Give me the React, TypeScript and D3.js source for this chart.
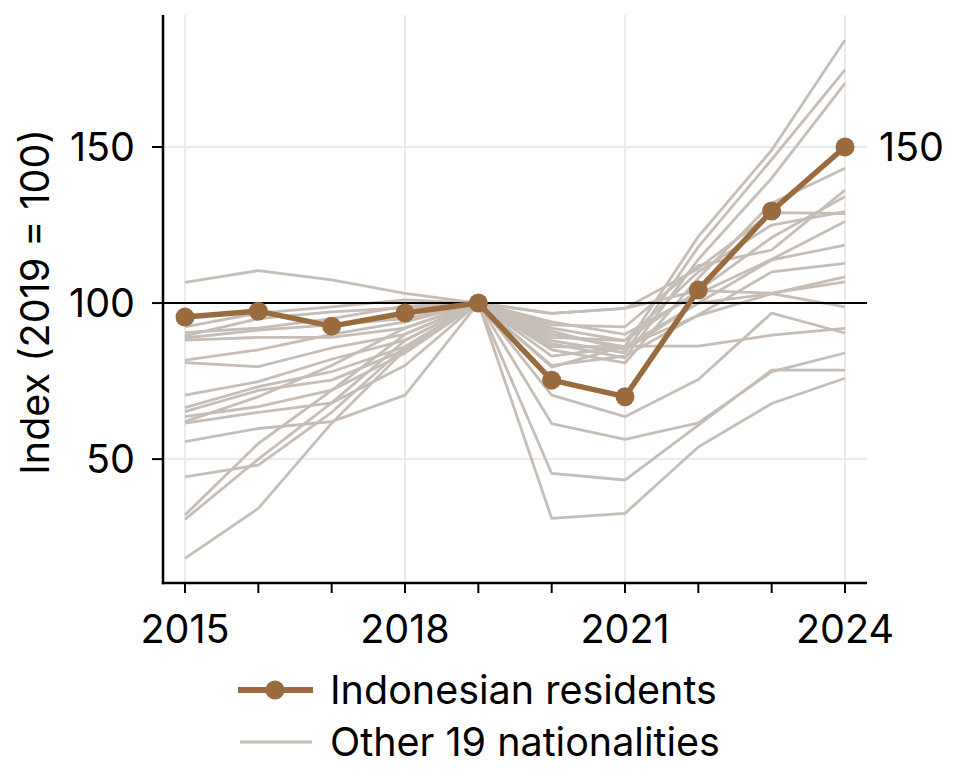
import React from "react";
import * as d3 from "d3";

const years = [2015, 2016, 2017, 2018, 2019, 2020, 2021, 2022, 2023, 2024];
const labelYears = [2015, 2018, 2021, 2024];
const yTicks = [50, 100, 150];

const indonesia = [95.5, 97.4, 92.6, 96.8, 100, 75.3, 70, 104.2, 129.5, 150];

const other1 = [106.6, 110.4, 107.4, 103.1, 100, 96.7, 98.3, 111.1, 129, 128.7];
const other2 = [92.4, 96.8, 98.8, 101, 100, 92, 88, 104, 121, 134.1];
const other3 = [89.5, 95, 97.2, 98.5, 100, 90, 86, 121.3, 149, 184.3];
const other4 = [88.8, 91.3, 93, 95, 100, 88, 84, 118, 146, 174.7];
const other5 = [88.1, 89, 89, 92, 100, 87, 82.4, 114, 140, 170.4];
const other6 = [81.7, 85, 90, 94, 100, 85, 80.8, 108, 132, 143.2];
const other7 = [80.9, 79.6, 85.6, 90, 100, 93, 92.4, 112, 117, 136.2];
const other8 = [70.5, 74.8, 82, 88.1, 100, 94, 90, 103, 114, 126.1];
const other9 = [66.5, 73.2, 78, 86, 100, 83, 86, 100, 113.8, 118.6];
const other10 = [65.2, 72, 75.3, 85, 100, 96.7, 98.3, 104, 103.2, 106.8];
const other11 = [63.6, 66.8, 72.1, 84, 100, 80, 83, 96.2, 110, 112.7];
const other12 = [62, 70, 80, 92, 100, 89, 88, 110, 125, 129.3];
const other13 = [61.5, 65, 68, 80, 100, 86, 86, 96, 103, 108.4];
const other14 = [55.6, 59.8, 62, 70.5, 100, 70.5, 63.6, 75.5, 96.8, 90.4];
const other15 = [44.3, 48.1, 65, 86, 100, 61.4, 56.3, 61.6, 78, 84];
const other16 = [32.1, 55, 72, 90, 100, 79.5, 86.2, 86.2, 89.7, 91.9];
const other17 = [30.7, 50, 68, 88, 100, 45.4, 43.3, 60.9, 78.5, 78.5];
const other18 = [18.2, 34.2, 61.5, 85, 100, 31, 32.6, 53.9, 67.8, 75.9];
const other19 = [90.5, 92, 95, 99, 100, 91, 85, 100, 103, 98.8];

const others = [
  other1, other2, other3, other4, other5, other6, other7, other8, other9, other10,
  other11, other12, other13, other14, other15, other16, other17, other18, other19,
];

const BROWN = "#9a6b3f";
const GRAY = "#c6beb6";
const FONT = "Inter, 'DejaVu Sans', sans-serif";
const FS = 39.5;

export default function App() {
  const W = 962;
  const H = 780;
  const left = 163;
  const right = 867;
  const top = 15;
  const bottom = 583;

  const x = d3.scaleLinear().domain([2014.7, 2024.3]).range([left, right]);
  const y = d3.scaleLinear().domain([10.3, 192.3]).range([bottom, top]);

  const line = d3
    .line<number>()
    .x((_, i) => x(years[i]))
    .y((d) => y(d));

  return (
    <svg
      width={W}
      height={H}
      style={{ position: "absolute", left: 0, top: 0, background: "#fff" }}
      fontFamily={FONT}
    >
      {/* grid */}
      {labelYears.map((yr) => (
        <line key={"gx" + yr} x1={x(yr)} x2={x(yr)} y1={top} y2={bottom} stroke="#ebebeb" strokeWidth={2} />
      ))}
      {yTicks
        .filter((t) => t !== 100)
        .map((t) => (
          <line key={"gy" + t} x1={left} x2={right} y1={y(t)} y2={y(t)} stroke="#ebebeb" strokeWidth={2} />
        ))}

      {/* other lines */}
      {others.map((s, i) => (
        <path key={"o" + i} d={line(s) || ""} fill="none" stroke={GRAY} strokeWidth={2.8} strokeLinejoin="round" />
      ))}

      {/* reference line */}
      <line x1={left} x2={right} y1={y(100)} y2={y(100)} stroke="#000" strokeWidth={2} />

      {/* Indonesia */}
      <path d={line(indonesia) || ""} fill="none" stroke={BROWN} strokeWidth={5.5} strokeLinejoin="round" />
      {indonesia.map((v, i) => (
        <circle key={"c" + i} cx={x(years[i])} cy={y(v)} r={9.5} fill={BROWN} />
      ))}
      <text x={x(2024) + 34} y={y(150)} dy="0.35em" fontSize={FS} fill="#000">
        {d3.format("d")(indonesia[indonesia.length - 1])}
      </text>

      {/* axes */}
      <line x1={left} x2={left} y1={top} y2={bottom + 1.2} stroke="#000" strokeWidth={2.5} />
      <line x1={left - 1.2} x2={right} y1={bottom} y2={bottom} stroke="#000" strokeWidth={2.5} />
      {yTicks.map((t) => (
        <g key={"yt" + t}>
          <line x1={left - 11} x2={left} y1={y(t)} y2={y(t)} stroke="#000" strokeWidth={2} />
          <text x={left - 28} y={y(t)} dy="0.35em" textAnchor="end" fontSize={FS} fill="#000">
            {t}
          </text>
        </g>
      ))}
      {years.map((yr) => (
        <line key={"xt" + yr} x1={x(yr)} x2={x(yr)} y1={bottom} y2={bottom + 10} stroke="#000" strokeWidth={2} />
      ))}
      {labelYears.map((yr) => (
        <text key={"xl" + yr} x={x(yr)} y={bottom + 60} textAnchor="middle" fontSize={FS} fill="#000">
          {yr}
        </text>
      ))}
      <text
        transform={`translate(${49},${302}) rotate(-90)`}
        textAnchor="middle"
        fontSize={FS}
        fill="#000"
      >
        Index (2019 = 100)
      </text>

      {/* legend */}
      <g>
        <line x1={238} x2={313} y1={690} y2={690} stroke={BROWN} strokeWidth={6} />
        <circle cx={275} cy={690} r={9.5} fill={BROWN} />
        <text x={330} y={690} dy="0.35em" fontSize={FS} fill="#000">
          Indonesian residents
        </text>
        <line x1={240} x2={312} y1={742} y2={742} stroke={GRAY} strokeWidth={3} />
        <text x={330} y={742} dy="0.35em" fontSize={FS} fill="#000">
          Other 19 nationalities
        </text>
      </g>
    </svg>
  );
}
